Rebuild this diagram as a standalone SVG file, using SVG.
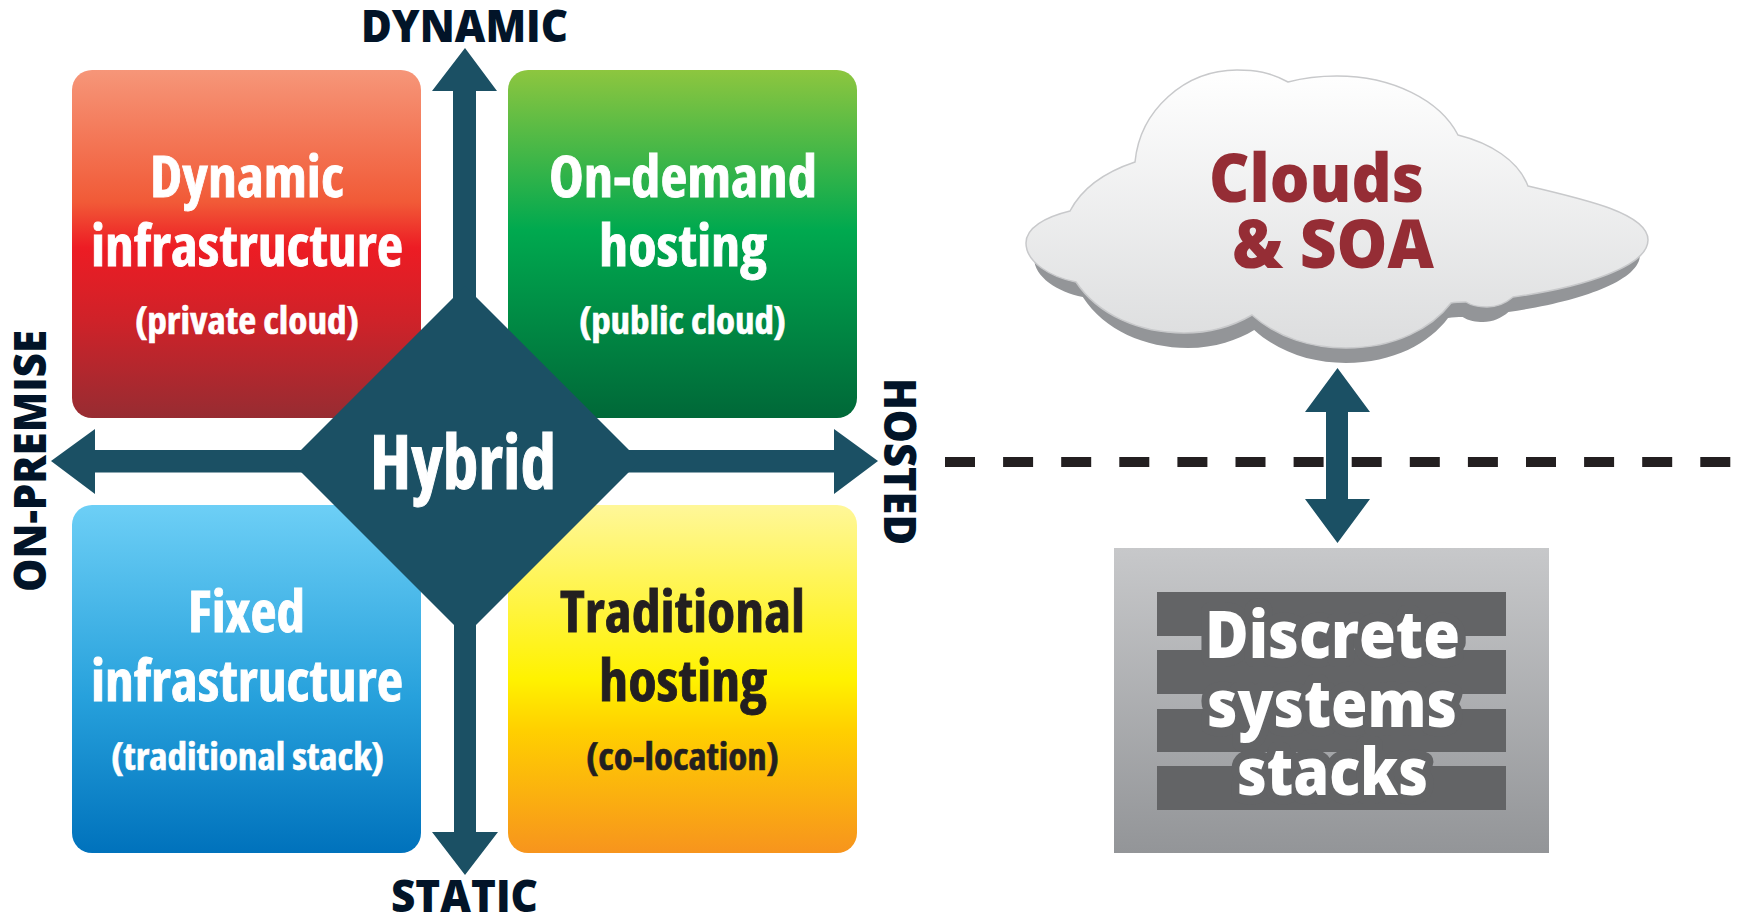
<svg xmlns="http://www.w3.org/2000/svg" width="1738" height="918" viewBox="0 0 1738 918">
<style>
text{font-family:"Open Sans","Noto Sans","Liberation Sans",sans-serif;font-weight:700;text-anchor:start}
.t{font-size:58px;font-stretch:condensed;stroke-width:.8px}
.s{font-size:38px;font-stretch:condensed;stroke-width:.6px}
.w{fill:#fff;stroke:#fff}.k{fill:#231f20;stroke:#231f20}
.ax{font-size:44px;font-weight:800;fill:#021428}
.ar{fill:#1b5064}
.c{font-size:68px;font-weight:800;fill:#952d35}
.d{font-size:66px;font-weight:800;fill:#fff;stroke:#636466;stroke-width:18px;stroke-linejoin:round;paint-order:stroke}
.bar{fill:#636466}
</style>
<defs>
<linearGradient id="gr" x1="0" y1="0" x2="0" y2="1"><stop offset="0" stop-color="#f69679"/><stop offset=".38" stop-color="#f15a37"/><stop offset=".51" stop-color="#ed1c24"/><stop offset=".72" stop-color="#cf2229"/><stop offset="1" stop-color="#972c32"/></linearGradient>
<linearGradient id="gg" x1="0" y1="0" x2="0" y2="1"><stop offset="0" stop-color="#8dc63f"/><stop offset=".46" stop-color="#00a94f"/><stop offset="1" stop-color="#006838"/></linearGradient>
<linearGradient id="gb" x1="0" y1="0" x2="0" y2="1"><stop offset="0" stop-color="#6dcff6"/><stop offset=".55" stop-color="#27a1dc"/><stop offset="1" stop-color="#0072bc"/></linearGradient>
<linearGradient id="gy" x1="0" y1="0" x2="0" y2="1"><stop offset="0" stop-color="#fff799"/><stop offset=".5" stop-color="#fff200"/><stop offset=".65" stop-color="#ffcf00"/><stop offset="1" stop-color="#f7941d"/></linearGradient>
<linearGradient id="gc" x1="0" y1="0" x2="0" y2="1"><stop offset="0" stop-color="#fff"/><stop offset="1" stop-color="#dcddde"/></linearGradient>
<linearGradient id="gs" x1="0" y1="0" x2="0" y2="1"><stop offset="0" stop-color="#c7c8ca"/><stop offset="1" stop-color="#939598"/></linearGradient>
<path id="cl" d="M1288 82C1270 72 1255 70 1237 70C1185 70 1140 110 1135 162C1105 172 1082 188 1070 211C1045 217 1026 228 1026 243C1026 262 1050 277 1076 282C1098 315 1140 333 1184 333C1212 333 1235 325 1252 315C1278 338 1312 348 1346 348C1395 348 1432 328 1451 303C1456 302 1461 302 1466 302C1472 306 1480 307 1487 307C1497 307 1506 303 1513 297C1585 287 1648 266 1648 240C1648 214 1588 200 1528 186C1518 160 1490 143 1458 135C1440 100 1392 76 1337 76C1320 76 1303 78 1288 82Z"/>
</defs>

<g id="node-dynamic-infrastructure">
<rect x="72" y="70" width="349" height="348" rx="20" fill="url(#gr)"/>
<text class="t w" x="150" y="197" textLength="194" lengthAdjust="spacingAndGlyphs">Dynamic</text>
<text class="t w" x="91" y="266" textLength="312" lengthAdjust="spacingAndGlyphs">infrastructure</text>
<text class="s w" x="135" y="334" textLength="224" lengthAdjust="spacingAndGlyphs">(private cloud)</text>
</g>
<g id="node-on-demand-hosting">
<rect x="508" y="70" width="349" height="348" rx="20" fill="url(#gg)"/>
<text class="t w" x="549" y="197" textLength="268" lengthAdjust="spacingAndGlyphs">On-demand</text>
<text class="t w" x="599" y="266" textLength="168" lengthAdjust="spacingAndGlyphs">hosting</text>
<text class="s w" x="579" y="334" textLength="207" lengthAdjust="spacingAndGlyphs">(public cloud)</text>
</g>
<g id="node-fixed-infrastructure">
<rect x="72" y="505" width="349" height="348" rx="20" fill="url(#gb)"/>
<text class="t w" x="188" y="632" textLength="117" lengthAdjust="spacingAndGlyphs">Fixed</text>
<text class="t w" x="91" y="701" textLength="312" lengthAdjust="spacingAndGlyphs">infrastructure</text>
<text class="s w" x="111" y="770" textLength="273" lengthAdjust="spacingAndGlyphs">(traditional stack)</text>
</g>
<g id="node-traditional-hosting">
<rect x="508" y="505" width="349" height="348" rx="20" fill="url(#gy)"/>
<text class="t k" x="560" y="632" textLength="245" lengthAdjust="spacingAndGlyphs">Traditional</text>
<text class="t k" x="599" y="701" textLength="168" lengthAdjust="spacingAndGlyphs">hosting</text>
<text class="s k" x="586" y="770" textLength="193" lengthAdjust="spacingAndGlyphs">(co-location)</text>
</g>

<g id="connectors">
<polygon class="ar" points="465,48 497,91 476,91 476,300 453,300 453,91 432,91"/>
<polygon class="ar" points="465,875 498,832 476,832 476,620 454,620 454,832 432,832"/>
<polygon class="ar" points="51,461 95,429 95,450 310,450 310,472.500 95,472.500 95,494"/>
<polygon class="ar" points="878,461 834,429 834,450 620,450 620,472.500 834,472.500 834,494"/>
<line x1="945" y1="462" x2="1732" y2="462" stroke="#231f20" stroke-width="10" stroke-dasharray="30 28.100"/>
<polygon class="ar" points="1337.500,368 1370,412 1348,412 1348,499 1370,499 1337.500,543 1305,499 1326,499 1326,412 1305,412"/>
</g>

<g id="node-hybrid">
<polygon class="ar" points="465,286 640,461 465,636 290,461"/>
<text class="w" style="font-size:76px;font-stretch:condensed;stroke-width:1px" x="370" y="489" textLength="186" lengthAdjust="spacingAndGlyphs">Hybrid</text>
</g>

<g id="label-dynamic"><text class="ax" x="361" y="42" textLength="207" lengthAdjust="spacingAndGlyphs">DYNAMIC</text></g>
<g id="label-static"><text class="ax" x="391" y="912" textLength="147" lengthAdjust="spacingAndGlyphs">STATIC</text></g>
<g id="label-on-premise"><text class="ax" transform="translate(46 592) rotate(-90)" textLength="262" lengthAdjust="spacingAndGlyphs">ON-PREMISE</text></g>
<g id="label-hosted"><text class="ax" transform="translate(884 378) rotate(90)" textLength="167" lengthAdjust="spacingAndGlyphs">HOSTED</text></g>

<g id="node-clouds">
<use href="#cl" fill="#939598" transform="translate(1337 15) scale(.974 1) translate(-1337 0)"/>
<use href="#cl" fill="url(#gc)" stroke="#c8c9cb" stroke-width="1.500"/>
<text class="c" x="1209" y="202" textLength="215" lengthAdjust="spacingAndGlyphs">Clouds</text>
<text class="c" x="1232" y="268" textLength="202" lengthAdjust="spacingAndGlyphs">&amp; SOA</text>
</g>

<g id="node-discrete">
<rect x="1114" y="548" width="435" height="305" fill="url(#gs)"/>
<rect class="bar" x="1157" y="592" width="349" height="44"/>
<rect class="bar" x="1157" y="650" width="349" height="44"/>
<rect class="bar" x="1157" y="709" width="349" height="43"/>
<rect class="bar" x="1157" y="766" width="349" height="44"/>
<text class="d" x="1205" y="658" textLength="255" lengthAdjust="spacingAndGlyphs">Discrete</text>
<text class="d" x="1207" y="727" textLength="250" lengthAdjust="spacingAndGlyphs">systems</text>
<text class="d" x="1237" y="795" textLength="191" lengthAdjust="spacingAndGlyphs">stacks</text>
</g>
</svg>
